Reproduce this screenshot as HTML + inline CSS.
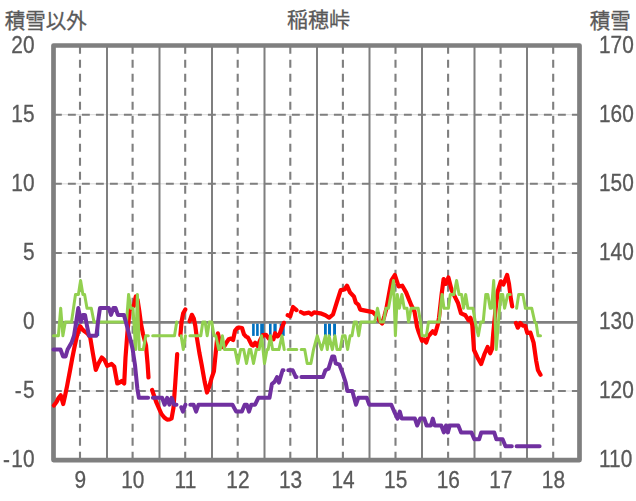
<!DOCTYPE html>
<html><head><meta charset="utf-8"><title>chart</title>
<style>html,body{margin:0;padding:0;background:#fff}body{width:636px;height:501px;overflow:hidden;font-family:"Liberation Sans",sans-serif}svg{display:block}</style>
</head><body>
<svg width="636" height="501" viewBox="0 0 636 501" role="img" aria-label="稲穂峠 積雪以外 積雪">
<title>稲穂峠</title>
<rect width="636" height="501" fill="#fff"/>
<g stroke="#d0d0d0" stroke-width="0.8">
<line x1="53.5" y1="114.7" x2="579.5" y2="114.7"/>
<line x1="53.5" y1="183.8" x2="579.5" y2="183.8"/>
<line x1="53.5" y1="253.0" x2="579.5" y2="253.0"/>
<line x1="53.5" y1="391.0" x2="579.5" y2="391.0"/>
</g>
<g stroke="#7f7f7f" stroke-width="2" fill="none">
<line x1="107.0" y1="45.5" x2="107.0" y2="460.1"/>
<line x1="159.5" y1="45.5" x2="159.5" y2="460.1"/>
<line x1="212.0" y1="45.5" x2="212.0" y2="460.1"/>
<line x1="264.5" y1="45.5" x2="264.5" y2="460.1"/>
<line x1="317.0" y1="45.5" x2="317.0" y2="460.1"/>
<line x1="369.5" y1="45.5" x2="369.5" y2="460.1"/>
<line x1="422.0" y1="45.5" x2="422.0" y2="460.1"/>
<line x1="474.5" y1="45.5" x2="474.5" y2="460.1"/>
<line x1="527.0" y1="45.5" x2="527.0" y2="460.1"/>
</g>
<g stroke="#7f7f7f" stroke-width="2.1" fill="none" stroke-dasharray="7.9 6.1">
<line x1="80.0" y1="45.8" x2="80.0" y2="460.1"/>
<line x1="132.6" y1="45.8" x2="132.6" y2="460.1"/>
<line x1="185.2" y1="45.8" x2="185.2" y2="460.1"/>
<line x1="237.7" y1="45.8" x2="237.7" y2="460.1"/>
<line x1="290.3" y1="45.8" x2="290.3" y2="460.1"/>
<line x1="342.9" y1="45.8" x2="342.9" y2="460.1"/>
<line x1="395.5" y1="45.8" x2="395.5" y2="460.1"/>
<line x1="448.1" y1="45.8" x2="448.1" y2="460.1"/>
<line x1="500.6" y1="45.8" x2="500.6" y2="460.1"/>
<line x1="553.2" y1="45.8" x2="553.2" y2="460.1"/>
</g>
<g stroke="#7f7f7f" stroke-width="2.1" fill="none" stroke-dasharray="7.9 6.1">
<line x1="53.9" y1="114.7" x2="579.5" y2="114.7"/>
<line x1="53.9" y1="183.8" x2="579.5" y2="183.8"/>
<line x1="53.9" y1="253.0" x2="579.5" y2="253.0"/>
<line x1="53.9" y1="391.0" x2="579.5" y2="391.0"/>
</g>
<line x1="53.5" y1="322.4" x2="579.5" y2="322.4" stroke="#7f7f7f" stroke-width="2.6"/>
<rect x="53.5" y="45.5" width="526.0" height="414.6" fill="none" stroke="#7f7f7f" stroke-width="4.7" stroke-linejoin="round"/>
<g fill="#0070c0">
<rect x="77.3" y="323.7" width="2.2" height="12.2"/>
<rect x="97.0" y="323.7" width="2.2" height="12.2"/>
<rect x="252.1" y="323.7" width="2.6" height="12.2"/>
<rect x="256.1" y="323.7" width="2.6" height="12.2"/>
<rect x="260.2" y="323.7" width="3.7" height="12.2"/>
<rect x="269.0" y="323.7" width="2.6" height="12.2"/>
<rect x="273.4" y="323.7" width="3.3" height="12.2"/>
<rect x="279.7" y="323.7" width="5.0" height="12.2"/>
<rect x="324.0" y="323.7" width="2.8" height="12.2"/>
<rect x="328.0" y="323.7" width="3.0" height="12.2"/>
<rect x="333.1" y="323.7" width="2.9" height="12.2"/>
</g>
<g fill="none" stroke-linejoin="round" stroke-linecap="round">
<path stroke="#ff0000" stroke-width="4.2" d="M53.9 405.5 L56.5 402.0 L58.5 398.0 L60.7 395.2 L63.2 404.0 L65.0 396.0 L67.0 386.4 L70.1 370.0 L72.3 358.0 L74.5 347.0 L76.5 338.0 L78.5 330.0 L80.2 326.3 L82.4 329.5 L84.6 331.3 L87.5 333.5 L90.2 337.4 L92.9 353.5 L95.8 370.0 L98.5 363.5 L101.8 357.5 L104.5 360.0 L107.2 365.9 L111.6 364.0 L114.2 366.5 L117.3 383.5 L119.5 382.5 L121.7 381.0 L124.2 383.5 L125.5 357.7 L127.4 332.6 L129.6 311.0 L131.8 306.5 L133.8 306.0 L135.8 296.5 L137.6 300.0 L139.3 311.0 L141.0 324.0 L143.0 334.0 L146.0 345.5 L147.6 364.0 L148.5 377.5 M152.1 390.0 L154.3 396.5 L156.5 402.7 L159.0 408.5 L161.5 414.0 L164.3 417.5 L167.2 419.7 L169.5 419.5 L171.6 418.4 L173.5 407.7 L175.3 382.6 L177.2 354.0 M180.4 335.0 L181.6 321.5 L183.2 313.2 L185.3 309.4 M189.6 321.3 L191.9 314.8 L193.8 318.5 L195.3 326.0 L196.6 336.0 L198.0 344.5 L199.4 353.0 L201.7 365.0 L204.6 381.5 L207.0 392.5 L209.3 386.5 L211.6 378.0 L213.9 371.4 L215.5 355.0 L217.0 340.0 L217.9 333.4 L220.2 343.0 L222.5 347.0 L224.5 346.0 L226.5 342.5 L228.7 339.3 L231.0 338.6 L233.1 340.0 L235.1 330.5 L237.0 328.3 L239.2 327.5 L242.0 328.0 L244.0 334.4 L246.0 336.5 L248.0 337.6 L251.6 344.8 L253.2 345.6 L255.2 342.8 L257.6 346.0 L260.2 340.0 L262.8 335.2 L266.0 334.8 L268.7 338.4 L271.0 337.5 L273.5 339.2 L275.1 333.2 L277.5 336.4 L279.5 334.5 L281.5 328.8 L283.9 322.8 M287.7 315.2 L290.2 316.4 L293.0 307.0 L296.5 310.1 M300.9 312.0 L304.0 313.6 L309.0 312.6 L311.6 314.5 L314.1 312.4 L320.4 313.3 L325.4 315.2 L329.2 317.7 L333.0 314.5 L336.7 302.6 L340.7 290.1 L344.5 289.5 L347.0 285.7 L350.1 292.6 L353.9 296.4 L355.8 302.7 L358.3 304.6 L360.2 309.6 L366.5 310.9 L372.8 312.1 L375.9 315.3 L379.0 320.0 L382.2 323.5 L384.4 316.0 L386.6 307.7 L389.0 294.0 L391.6 280.1 L394.8 275.0 L398.6 286.4 L402.3 285.7 L406.2 292.6 L411.3 305.2 L414.5 311.5 L417.0 326.6 L418.9 332.6 L422.0 340.8 L423.9 339.5 L426.2 342.6 L428.3 336.4 L432.7 331.3 L435.2 333.8 L437.7 325.0 L439.0 317.8 L441.5 295.2 L443.6 279.0 L445.9 283.8 L448.4 277.5 L451.6 290.1 L454.7 296.4 L457.9 302.7 L461.0 313.4 L465.4 315.3 L468.6 320.3 L470.5 317.8 L472.3 325.3 L473.0 335.1 L474.0 350.0 L477.6 357.7 L481.1 364.0 L484.5 354.0 L487.6 347.0 L490.2 353.3 L492.0 348.9 L493.3 332.6 L495.5 310.0 L497.7 291.4 L500.8 281.3 L503.4 284.5 L507.1 275.0 L509.0 284.0 L510.9 298.9 L512.2 306.5 M515.9 323.0 L517.8 327.7 L520.3 323.0 L522.8 325.6 L525.2 325.8 L527.3 333.0 L530.4 332.6 L533.6 342.6 L536.1 360.3 L538.0 370.3 L540.5 374.7"/>
<path stroke="#92d050" stroke-width="3" d="M53.5 335.8 L58.4 335.8 L60.7 308.2 L62.9 335.8 L65.3 322.0 L71.5 322.0 L75.5 294.4 L78.4 294.4 L80.6 280.5 L82.9 294.4 L84.6 294.4 L87.0 308.2 L91.3 308.2 L94.0 322.0 L126.5 322.0 L128.6 294.4 L130.7 308.2 L133.0 308.2 L135.6 349.6 L137.4 294.4 L139.3 349.6 L143.3 349.6 L145.8 335.8 L148.3 335.8 M152.7 335.8 L174.5 335.8 L176.7 322.0 M181.1 335.8 L183.3 349.6 L185.5 335.8 M189.9 335.8 L200.8 335.8 L202.8 322.0 L205.1 322.0 L207.2 335.8 L209.3 322.0 L211.8 322.0 L214.0 335.8 L215.8 335.8 L218.8 349.6 L220.2 349.6 L222.4 335.8 L224.5 349.6 L235.0 349.6 L237.8 363.5 L240.6 349.6 L243.7 349.6 L246.5 363.5 L249.2 349.6 L250.8 349.6 L253.5 363.5 L256.3 349.6 L259.2 349.6 L261.6 335.8 L264.5 363.5 L267.0 349.6 L268.2 349.6 L270.4 335.8 L272.6 349.6 L278.9 349.6 L282.0 335.8 L284.2 349.6 M288.1 349.6 L296.8 349.6 M301.2 349.6 L304.7 349.6 L307.2 363.5 L310.9 363.5 L313.5 349.6 L317.2 335.8 L321.6 349.6 L325.4 335.8 L327.3 349.6 L329.0 335.8 L332.4 349.6 L334.9 335.8 L337.0 349.6 L340.1 349.6 L342.6 335.8 L345.1 335.8 L347.6 349.6 L350.1 335.8 L352.0 335.8 L354.3 322.0 L356.5 322.0 L358.7 335.8 L360.8 322.0 L374.7 322.0 L377.5 308.2 L380.3 322.0 L383.5 322.0 L386.0 308.2 L388.5 308.2 L393.5 280.5 L395.4 335.8 L397.3 294.4 L399.4 308.2 L401.9 294.4 L404.2 308.2 L407.0 308.2 L408.6 322.0 L411.1 308.2 L418.2 308.2 L420.5 322.0 L422.0 335.8 L426.4 335.8 L428.5 322.0 L439.0 322.0 L442.1 294.4 L444.0 308.2 L448.4 308.2 L450.3 294.4 L454.0 294.4 L456.6 280.5 L459.1 294.4 L461.6 294.4 L463.5 308.2 L465.7 294.4 L467.9 308.2 L473.0 308.2 L475.3 322.0 L478.3 335.8 L480.7 322.0 L483.2 322.0 L485.8 294.4 L487.8 294.4 L490.2 308.2 L491.6 308.2 L493.7 280.5 L496.2 349.6 L500.8 294.4 L502.7 294.4 L504.6 308.2 L507.8 294.4 L510.2 294.4 M516.6 308.2 L518.7 294.4 L522.9 294.4 L525.4 308.2 L531.7 308.2 L534.8 322.0 L536.2 323.4 L538.0 335.8 L540.5 335.8"/>
<path stroke="#7030a0" stroke-width="4" d="M53.5 349.5 L60.5 349.5 L63.0 356.4 L65.6 356.4 L67.6 349.5 L69.6 346.0 L71.6 342.6 L74.0 335.7 L76.2 321.8 L78.3 308.0 L80.8 321.8 L83.0 314.9 L85.0 314.9 L86.9 325.3 L89.0 335.7 L96.4 335.7 L98.0 321.8 L100.0 308.0 L108.8 308.0 L111.0 314.9 L113.4 308.0 L115.5 308.0 L117.9 314.9 L123.9 314.9 L126.0 322.4 L128.5 332.0 L130.6 340.5 L132.6 349.0 L135.0 365.0 L137.4 389.0 L138.9 397.8 L148.1 397.8 M152.9 397.8 L162.1 397.8 L164.6 404.7 L167.2 397.8 L169.4 404.7 L171.6 397.8 L174.1 404.7 L176.5 404.7 M181.3 407.2 L182.9 411.6 L185.4 404.7 L185.5 404.7 M190.3 404.7 L193.6 404.7 L196.1 411.6 L198.5 404.7 L232.5 404.7 L236.2 411.6 L241.9 411.6 L244.7 404.7 L246.8 404.7 L249.0 411.6 L251.3 404.7 L255.1 404.7 L258.3 397.8 L269.5 397.8 L271.9 384.0 L274.5 381.9 L277.0 377.1 L278.9 382.6 L282.6 370.2 L283.5 370.2 M288.3 370.2 L292.7 370.2 L295.8 377.1 L296.6 377.1 M301.4 377.1 L322.9 377.1 L325.4 370.2 L328.5 368.8 L332.3 356.4 L334.2 356.4 L335.7 363.3 L339.4 364.7 L342.6 373.0 L345.7 382.6 L347.3 390.9 L352.3 390.9 L356.0 404.7 L358.3 397.8 L366.8 397.8 L369.2 404.7 L391.3 404.7 L394.2 411.6 L397.5 418.6 L399.8 411.6 L401.7 418.6 L414.9 418.6 L417.2 425.5 L420.2 418.6 L424.3 418.6 L426.6 425.5 L430.9 425.5 L432.8 418.6 L434.7 425.5 L441.3 425.5 L443.8 432.4 L446.0 425.5 L447.9 432.4 L449.8 425.5 L458.3 425.5 L461.1 432.4 L471.5 432.4 L474.3 439.3 L479.1 439.3 L481.3 432.4 L494.2 432.4 L496.4 439.3 L502.6 439.3 L505.5 446.2 L511.8 446.2 M516.6 446.2 L539.6 446.2"/>
</g>
<g font-family="'Liberation Sans', 'Noto Sans CJK JP', sans-serif" font-size="21" fill="#595959" stroke="#595959" stroke-width="0.3">
<text x="4.7" y="28.1" textLength="82" lengthAdjust="spacingAndGlyphs">積雪以外</text>
<text x="318.5" y="27.1" text-anchor="middle">稲穂峠</text>
<text x="589.7" y="28.1" textLength="41" lengthAdjust="spacingAndGlyphs">積雪</text>
</g>
<g font-family="'Liberation Sans', sans-serif" font-size="23" fill="#595959" stroke="#595959" stroke-width="0.3" opacity="0.999">
<text transform="translate(34.5 52.5) scale(0.908 1)" text-anchor="end">20</text>
<text transform="translate(34.5 121.6) scale(0.908 1)" text-anchor="end">15</text>
<text transform="translate(34.5 190.7) scale(0.908 1)" text-anchor="end">10</text>
<text transform="translate(34.5 259.8) scale(0.908 1)" text-anchor="end">5</text>
<text transform="translate(34.5 328.9) scale(0.908 1)" text-anchor="end">0</text>
<text transform="translate(34.5 398.0) scale(0.908 1)" text-anchor="end"><tspan>-</tspan><tspan dx="1.4">5</tspan></text>
<text transform="translate(34.5 467.1) scale(0.908 1)" text-anchor="end"><tspan>-</tspan><tspan dx="1.4">10</tspan></text>
<text transform="translate(599.0 52.5) scale(0.908 1)" text-anchor="start">170</text>
<text transform="translate(599.0 121.6) scale(0.908 1)" text-anchor="start">160</text>
<text transform="translate(599.0 190.7) scale(0.908 1)" text-anchor="start">150</text>
<text transform="translate(599.0 259.8) scale(0.908 1)" text-anchor="start">140</text>
<text transform="translate(599.0 328.9) scale(0.908 1)" text-anchor="start">130</text>
<text transform="translate(599.0 398.0) scale(0.908 1)" text-anchor="start">120</text>
<text transform="translate(599.0 467.1) scale(0.908 1)" text-anchor="start">110</text>
<text transform="translate(80.2 488.0) scale(0.908 1)" text-anchor="middle">9</text>
<text transform="translate(132.8 488.0) scale(0.908 1)" text-anchor="middle">10</text>
<text transform="translate(185.4 488.0) scale(0.908 1)" text-anchor="middle">11</text>
<text transform="translate(237.9 488.0) scale(0.908 1)" text-anchor="middle">12</text>
<text transform="translate(290.5 488.0) scale(0.908 1)" text-anchor="middle">13</text>
<text transform="translate(343.1 488.0) scale(0.908 1)" text-anchor="middle">14</text>
<text transform="translate(395.7 488.0) scale(0.908 1)" text-anchor="middle">15</text>
<text transform="translate(448.3 488.0) scale(0.908 1)" text-anchor="middle">16</text>
<text transform="translate(500.8 488.0) scale(0.908 1)" text-anchor="middle">17</text>
<text transform="translate(553.4 488.0) scale(0.908 1)" text-anchor="middle">18</text>
</g>
</svg>
</body></html>
